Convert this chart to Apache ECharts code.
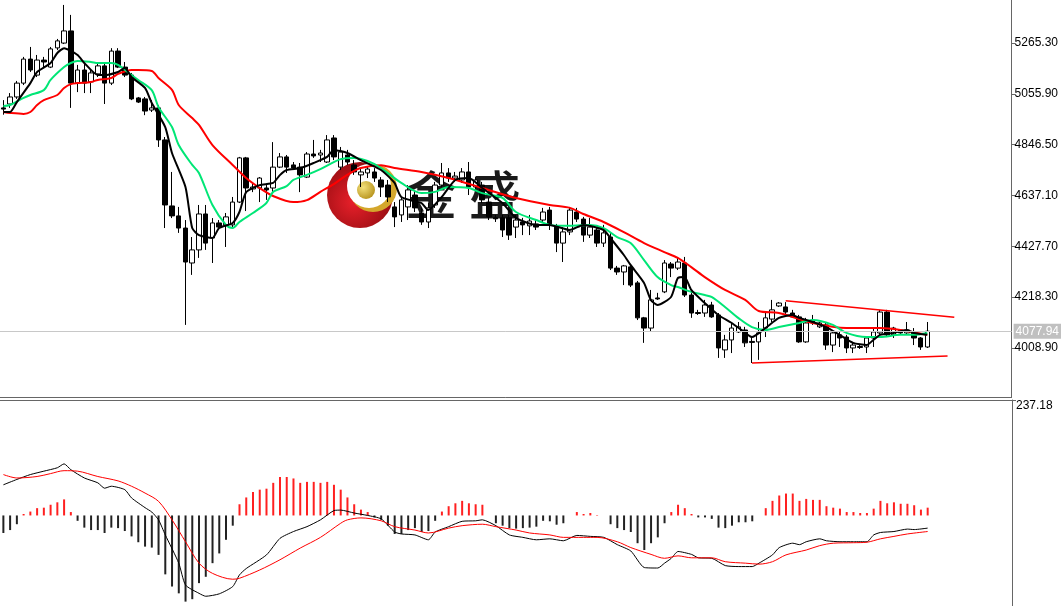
<!DOCTYPE html>
<html>
<head>
<meta charset="utf-8">
<title>K线 MACD</title>
<script src="https://cdn.jsdelivr.net/npm/echarts@6/dist/echarts.min.js"></script>
<style>
  html, body { margin: 0; padding: 0; background: #fff; }
  #chart { width: 1061px; height: 606px; }
</style>
</head>
<body>
<div id="chart"></div>
<script>
// 数据
var categories = [];
for (var n = 1; n <= 150; n++) categories.push(String(n)); // 隐藏的K线序号

// [开, 收, 低, 高]
var ohlc = [
  [4998,4993,4970,5030],[5014,5043,4998,5059],[5043,5100,5035,5109],[5100,5199,5092,5208],[5199,5154,5146,5249],
  [5133,5195,5125,5216],[5195,5187,5166,5208],[5166,5241,5162,5249],[5245,5274,5236,5282],[5265,5315,5261,5422],
  [5315,5100,4998,5381],[5100,5154,5063,5175],[5154,5100,5059,5187],[5105,5142,5059,5154],[5138,5171,5125,5183],
  [5171,5100,5014,5183],[5100,5232,5092,5244],[5232,5166,5162,5244],[5166,5133,5125,5187],[5133,5035,5030,5142],
  [5039,5022,5018,5043],[5035,4985,4968,5043],[4989,4998,4981,5030],[4998,4866,4837,5010],[4866,4598,4503,4878],
  [4594,4553,4544,4734],[4553,4503,4483,4590],[4503,4363,4104,4536],[4359,4413,4310,4466],[4413,4561,4380,4598],
  [4561,4441,4413,4598],[4462,4524,4359,4544],[4524,4507,4495,4536],[4516,4549,4425,4565],[4516,4610,4507,4631],
  [4610,4792,4606,4796],[4792,4668,4573,4796],[4664,4672,4651,4689],[4668,4709,4610,4713],[4668,4660,4619,4680],
  [4668,4754,4651,4857],[4754,4796,4750,4812],[4796,4754,4730,4804],[4763,4750,4742,4775],[4754,4722,4651,4771],
  [4713,4808,4709,4816],[4808,4800,4792,4866],[4804,4812,4775,4825],[4775,4866,4771,4886],[4874,4796,4783,4886],
  [4754,4816,4742,4837],[4804,4775,4763,4825],[4763,4734,4722,4783],[4722,4734,4672,4750],[4730,4746,4709,4758],
  [4734,4709,4693,4750],[4701,4672,4631,4713],[4680,4631,4610,4701],[4590,4549,4507,4610],[4557,4619,4528,4631],
  [4590,4660,4536,4680],[4639,4586,4569,4660],[4565,4528,4516,4586],[4528,4586,4503,4606],[4598,4680,4586,4693],
  [4680,4730,4672,4771],[4730,4709,4693,4750],[4709,4717,4693,4734],[4701,4734,4689,4750],[4734,4672,4639,4775],
  [4672,4701,4660,4713],[4680,4619,4606,4693],[4610,4549,4536,4627],[4545,4541,4528,4557],[4545,4495,4466,4557],
  [4545,4474,4454,4557],[4507,4536,4462,4557],[4528,4516,4474,4545],[4512,4532,4474,4557],[4520,4507,4495,4536],
  [4536,4569,4528,4586],[4577,4516,4495,4590],[4507,4441,4404,4520],[4441,4487,4363,4507],[4487,4577,4474,4590],
  [4569,4540,4528,4586],[4540,4474,4446,4549],[4474,4507,4462,4545],[4495,4441,4425,4507],[4441,4483,4425,4516],
  [4466,4338,4330,4483],[4338,4322,4310,4347],[4322,4347,4268,4351],[4343,4268,4260,4351],[4277,4133,4124,4285],
  [4133,4091,4030,4137],[4091,4207,4075,4248],[4215,4211,4207,4236],[4240,4359,4235,4371],[4355,4338,4301,4363],
  [4338,4363,4330,4380],[4359,4227,4219,4384],[4227,4153,4133,4240],[4155,4151,4145,4166],[4153,4186,4137,4207],
  [4186,4137,4133,4199],[4145,4009,3968,4153],[4001,4042,3968,4063],[4042,4091,3988,4112],[4075,4096,4071,4116],
  [4083,4030,4013,4096],[4036,4032,3947,4054],[4034,4071,3960,4116],[4091,4133,4054,4157],[4128,4166,4116,4207],
  [4182,4194,4178,4198],[4178,4157,4145,4198],[4153,4137,4133,4166],[4137,4034,4030,4145],[4034,4112,4030,4133],
  [4124,4112,4104,4145],[4096,4112,4091,4116],[4104,4021,4001,4112],[4021,4071,3992,4083],[4063,4050,4013,4075],
  [4054,4009,3988,4063],[4009,4021,3988,4034],[4015,4011,4005,4021],[4013,4050,3988,4054],[4050,4075,4013,4091],
  [4071,4157,4063,4166],[4157,4063,4054,4166],[4063,4091,4050,4096],[4083,4071,4067,4087],[4071,4083,4063,4116],
  [4075,4050,4021,4091],[4050,4013,4001,4054],[4013,4077.94,4009,4116]
];

// 均线 [序号, 值]
var maFast = [[0,4981],[1,4981],[2,5022],[4,5100],[5,5146],[7,5183],[8,5224],[9,5244],[11,5216],[12,5183],[14,5133],[15,5133],[17,5146],[18,5162],[19,5125],[21,5080],[22,5018],[24,4919],[25,4812],[27,4672],[28,4503],[29,4474],[31,4462],[32,4503],[34,4524],[35,4569],[36,4651],[38,4680],[40,4689],[41,4721],[42,4742],[44,4750],[46,4771],[48,4796],[49,4825],[51,4812],[53,4783],[56,4742],[58,4689],[59,4631],[62,4606],[63,4577],[65,4631],[67,4701],[69,4709],[71,4668],[74,4606],[76,4545],[79,4516],[81,4516],[84,4495],[86,4516],[89,4495],[90,4462],[92,4392],[93,4351],[95,4277],[96,4207],[97,4186],[99,4219],[100,4297],[101,4301],[102,4248],[104,4194],[106,4145],[108,4112],[110,4071],[111,4054],[113,4091],[115,4133],[117,4145],[118,4133],[120,4116],[122,4095],[124,4063],[126,4030],[128,4021],[129,4042],[130,4063],[132,4071],[134,4083],[135,4071],[137,4063]];
var maMid = [[0,5006],[1,5010],[3,5039],[4,5051],[6,5071],[7,5113],[9,5166],[10,5183],[11,5191],[13,5187],[14,5183],[16,5183],[17,5175],[19,5133],[20,5113],[22,5071],[23,5002],[25,4919],[26,4845],[28,4763],[29,4730],[31,4598],[33,4516],[34,4503],[35,4528],[37,4565],[39,4606],[40,4652],[42,4676],[43,4701],[45,4722],[47,4746],[50,4787],[52,4792],[54,4779],[56,4750],[59,4689],[62,4647],[64,4652],[66,4672],[69,4668],[71,4647],[74,4627],[76,4569],[79,4536],[81,4516],[84,4512],[87,4516],[89,4503],[91,4466],[93,4441],[95,4371],[97,4301],[99,4268],[100,4260],[102,4240],[104,4227],[105,4219],[107,4178],[109,4132],[111,4095],[113,4083],[115,4095],[118,4112],[120,4124],[123,4104],[125,4071],[128,4054],[130,4054],[133,4063],[135,4063],[137,4071]];
var maSlow = [[0,4981],[1,4977],[3,4973],[4,4981],[5,5010],[6,5030],[8,5051],[9,5080],[10,5096],[11,5100],[13,5105],[14,5113],[16,5121],[17,5138],[19,5154],[20,5154],[22,5150],[23,5121],[25,5072],[26,5010],[28,4956],[29,4928],[31,4845],[34,4763],[36,4709],[38,4668],[40,4635],[43,4610],[45,4618],[47,4652],[49,4684],[51,4722],[53,4750],[56,4762],[58,4750],[62,4734],[66,4709],[71,4668],[76,4627],[81,4598],[84,4586],[86,4561],[89,4528],[92,4486],[95,4441],[98,4404],[100,4380],[102,4342],[104,4301],[107,4248],[110,4207],[112,4161],[115,4153],[120,4112],[125,4091],[130,4091],[133,4083],[137,4063]];

// MACD
var macdHist = [
  -36,-30,-18,3,8,15,16,22,27,33,
  7,-11,-25,-30,-30,-36,-25,-26,-32,-43,
  -55,-64,-66,-81,-121,-146,-160,-177,-172,-139,
  -126,-98,-78,-50,-21,23,37,48,53,55,
  67,79,79,76,67,69,69,67,69,63,
  53,37,23,12,7,-4,-9,-21,-38,-38,
  -30,-26,-34,-32,-11,8,19,25,30,25,
  23,22,0,-16,-21,-26,-27,-26,-25,-23,
  -11,-12,-19,-16,0,7,3,5,1,0,
  -18,-26,-30,-34,-57,-71,-57,-45,-16,7,
  22,15,3,-4,-4,-7,-25,-26,-21,-14,
  -14,-12,0,15,30,41,45,45,30,34,
  32,32,19,16,14,7,7,5,5,14,
  30,25,27,24,24,21,12,16
];
var macdDif = [[0,63],[2,74],[4,84],[6,91],[8,98],[9,106],[10,94],[12,77],[14,67],[15,56],[16,60],[18,53],[19,36],[21,16],[22,7],[23,-9],[24,-40],[26,-98],[27,-143],[29,-160],[30,-166],[32,-161],[34,-146],[35,-122],[36,-109],[39,-81],[41,-47],[43,-33],[45,-23],[47,-9],[49,10],[50,11],[52,5],[54,0],[56,-7],[58,-34],[59,-38],[61,-40],[63,-50],[64,-34],[66,-23],[68,-12],[70,-11],[71,-9],[73,-21],[75,-40],[77,-45],[79,-50],[81,-48],[83,-52],[85,-41],[87,-43],[89,-45],[91,-60],[93,-73],[95,-107],[97,-108],[98,-98],[99,-88],[100,-74],[102,-80],[103,-87],[105,-88],[107,-103],[109,-105],[111,-105],[112,-98],[114,-81],[115,-66],[117,-57],[118,-60],[119,-54],[121,-48],[122,-52],[124,-54],[126,-54],[128,-54],[129,-40],[130,-35],[132,-33],[134,-28],[135,-29],[137,-26]];
var macdDea = [[0,84],[2,77],[5,80],[7,86],[9,92],[11,91],[14,80],[17,71],[19,60],[21,46],[23,29],[25,-9],[27,-54],[29,-98],[31,-119],[34,-131],[35,-129],[38,-112],[41,-91],[44,-67],[47,-45],[50,-16],[51,-9],[53,-5],[56,-11],[58,-23],[61,-30],[63,-36],[66,-26],[68,-21],[71,-18],[73,-23],[76,-30],[78,-36],[81,-40],[83,-45],[86,-45],[88,-45],[91,-54],[93,-66],[96,-80],[98,-88],[100,-83],[102,-87],[105,-87],[107,-95],[110,-98],[112,-100],[114,-95],[116,-81],[119,-71],[121,-62],[123,-57],[126,-56],[128,-55],[130,-48],[132,-43],[134,-38],[137,-33]];

var priceTicks = [4008.90, 4218.30, 4427.70, 4637.10, 4846.50, 5055.90, 5265.30];
var macdTicks = [237.18];
var lastPrice = 4077.94;
// 趋势线 [序号, 价格]
var upperLine = [[116, 4203], [141, 4136]];
var lowerLine = [[111, 3947], [140, 3976]];

var chart = echarts.init(document.getElementById('chart'));

var axisFont = { color: '#000', fontSize: 12, fontFamily: 'Liberation Sans' };

var option = {
  backgroundColor: '#fff',
  animation: false,
  grid: [
    { left: 0, right: 49, top: 0, height: 397 },
    { left: 0, right: 49, top: 400, bottom: 0 }
  ],
  xAxis: [
    {
      type: 'category', gridIndex: 0, data: categories, boundaryGap: true,
      axisLine: { show: true, onZero: false, lineStyle: { color: '#666' } },
      axisTick: { show: false }, axisLabel: { show: false }, splitLine: { show: false }
    },
    {
      type: 'category', gridIndex: 1, data: categories, boundaryGap: true, position: 'top',
      axisLine: { show: true, onZero: false, lineStyle: { color: '#666' } },
      axisTick: { show: false }, axisLabel: { show: false }, splitLine: { show: false }
    }
  ],
  yAxis: [
    {
      type: 'value', gridIndex: 0, position: 'right', min: 3807, max: 5442.4,
      axisLine: { show: true, lineStyle: { color: '#666' } },
      axisTick: { show: true, length: 4, customValues: priceTicks, lineStyle: { color: '#666' } },
      axisLabel: Object.assign({ customValues: priceTicks, margin: 3, formatter: function (v) { return v.toFixed(2); } }, axisFont),
      splitLine: { show: false }
    },
    {
      type: 'value', gridIndex: 1, position: 'right', min: -186, max: 237.18,
      axisLine: { show: true, lineStyle: { color: '#666' } },
      axisTick: { show: true, length: 4, customValues: macdTicks, lineStyle: { color: '#666' } },
      axisLabel: Object.assign({ customValues: macdTicks, margin: 4, verticalAlign: 'top', formatter: function (v) { return v.toFixed(2); } }, axisFont),
      splitLine: { show: false }
    }
  ],
  series: [
    {
      name: 'K线',
      type: 'candlestick',
      xAxisIndex: 0, yAxisIndex: 0,
      data: ohlc,
      barWidth: 5,
      itemStyle: { color: '#fff', color0: '#000', borderColor: '#000', borderColor0: '#000', borderWidth: 1 },
      markLine: {
        silent: true,
        symbol: 'none',
        data: [
          {
            yAxis: lastPrice,
            lineStyle: { color: '#c8c8c8', width: 1, type: 'solid' },
            label: {
              show: true, position: 'end', distance: 2,
              formatter: lastPrice.toFixed(2),
              color: '#fff', backgroundColor: '#c0c0c0', padding: [2, 2, 1, 2],
              fontSize: 12, fontFamily: 'Liberation Sans'
            }
          },
          [
            { coord: upperLine[0], lineStyle: { color: '#ff0000', width: 1.5, type: 'solid' }, label: { show: false } },
            { coord: upperLine[1] }
          ],
          [
            { coord: lowerLine[0], lineStyle: { color: '#ff0000', width: 1.5, type: 'solid' }, label: { show: false } },
            { coord: lowerLine[1] }
          ]
        ]
      }
    },
    {
      name: 'MA慢', type: 'line', xAxisIndex: 0, yAxisIndex: 0, data: maSlow,
      smooth: 0.3, showSymbol: false, lineStyle: { color: '#ff0000', width: 2 }
    },
    {
      name: 'MA中', type: 'line', xAxisIndex: 0, yAxisIndex: 0, data: maMid,
      smooth: 0.3, showSymbol: false, lineStyle: { color: '#00e676', width: 2 }
    },
    {
      name: 'MA快', type: 'line', xAxisIndex: 0, yAxisIndex: 0, data: maFast,
      smooth: 0.2, showSymbol: false, lineStyle: { color: '#000', width: 2 }
    },
    {
      name: 'MACD', type: 'bar', xAxisIndex: 1, yAxisIndex: 1, data: macdHist,
      barWidth: 2,
      itemStyle: {
        color: function (p) { return p.value >= 0 ? '#ff2020' : '#222'; }
      }
    },
    {
      name: 'DIF', type: 'line', xAxisIndex: 1, yAxisIndex: 1, data: macdDif,
      smooth: 0.2, showSymbol: false, lineStyle: { color: '#000', width: 1 }
    },
    {
      name: 'DEA', type: 'line', xAxisIndex: 1, yAxisIndex: 1, data: macdDea,
      smooth: 0.3, showSymbol: false, lineStyle: { color: '#ff0000', width: 1 }
    }
  ],
  graphic: [
    {
      type: 'group', z: 100,
      children: [
        {
          type: 'circle', shape: { cx: 360, cy: 195, r: 33 },
          style: {
            fill: new echarts.graphic.RadialGradient(0.4, 0.6, 0.7, [
              { offset: 0, color: '#e8202a' },
              { offset: 1, color: '#8a0a0e' }
            ])
          }
        },
        { type: 'circle', shape: { cx: 373, cy: 188, r: 24 }, style: { fill: '#d4a72c' } },
        { type: 'circle', shape: { cx: 369, cy: 186, r: 22 }, style: { fill: '#fff' } },
        {
          type: 'circle', shape: { cx: 366, cy: 190, r: 9 },
          style: {
            fill: new echarts.graphic.RadialGradient(0.35, 0.35, 0.8, [
              { offset: 0, color: '#f3e07a' },
              { offset: 1, color: '#b08a12' }
            ])
          }
        },
        {
          type: 'text', x: 431, y: 195,
          style: { text: '金', fill: '#1a1a1a', font: '500 52px "Noto Sans CJK SC"', align: 'center', verticalAlign: 'middle' }
        },
        {
          type: 'text', x: 495, y: 195,
          style: { text: '盛', fill: '#1a1a1a', font: '500 52px "Noto Sans CJK SC"', align: 'center', verticalAlign: 'middle' }
        }
      ]
    }
  ]
};

chart.setOption(option);
</script>
</body>
</html>
